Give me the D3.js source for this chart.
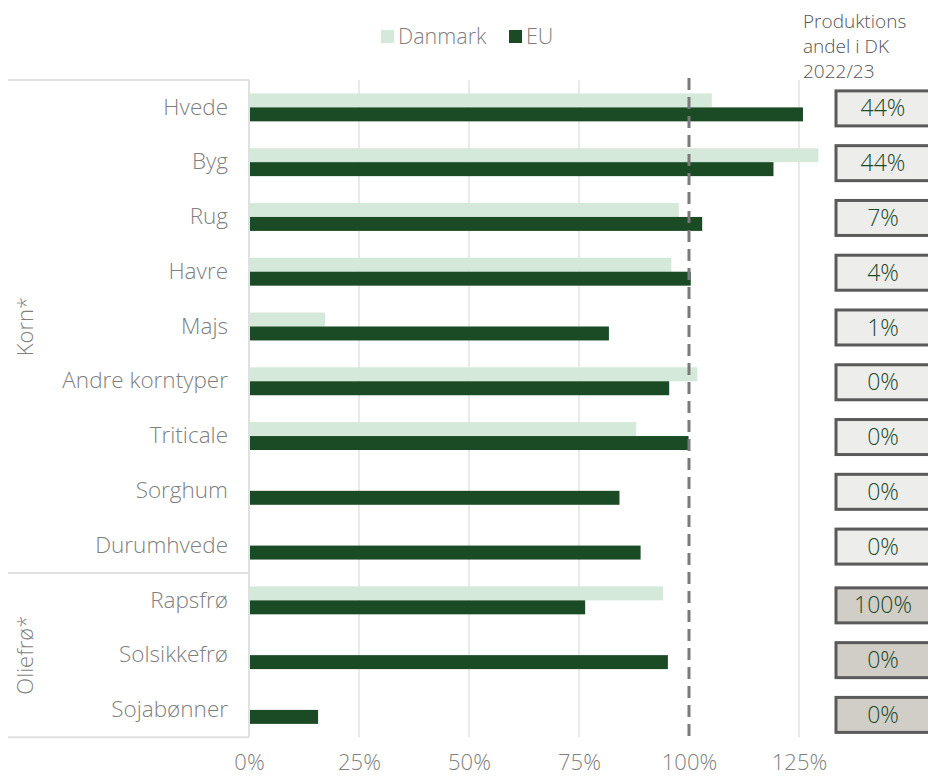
<!DOCTYPE html>
<html><head><meta charset="utf-8">
<script src="https://cdn.jsdelivr.net/npm/d3@7"></script>
<style>
html,body{margin:0;padding:0;background:#fff;}
svg{display:block;font-family:"Open Sans",sans-serif;font-weight:300;}
</style></head>
<body><svg id="c" width="928" height="778"></svg>
<script>
const categories = ["Hvede","Byg","Rug","Havre","Majs","Andre korntyper","Triticale","Sorghum ","Durumhvede","Rapsfrø","Solsikkefrø","Sojabønner"];
const groups = ["Korn*","Korn*","Korn*","Korn*","Korn*","Korn*","Korn*","Korn*","Korn*","Oliefrø*","Oliefrø*","Oliefrø*"];
const danmark = [105.2,129.4,97.7,96.0,17.3,101.9,88.0,null,null,94.1,null,null];
const eu = [125.9,119.2,103.0,100.4,81.8,95.5,99.9,84.2,89.0,76.4,95.2,15.7];
const produktionsandel = ["44%","44%","7%","4%","1%","0%","0%","0%","0%","100%","0%","0%"];
const tickValues = [0,25,50,75,100,125];
const seriesNames = ["Danmark","EU"];
const headerLines = ["Produktions","andel i DK","2022/23"];

const svg = d3.select("#c");
const C_DK = "#d5e9da", C_EU = "#1b4b25", GRAY = "#7f7f7f";
const pTop = 80, pBottom = 737.3, pLeft = 249, pRight = 799;

const x = d3.scaleLinear().domain([0,125]).range([pLeft,pRight]);
const y = d3.scaleBand().domain(categories).range([pTop,pBottom]).paddingInner(0.49).paddingOuter(0.245);
const rowY = d3.scaleBand().domain(categories).range([pTop,pBottom]);
const sub = d3.scaleBand().domain(seriesNames).range([0,y.bandwidth()]);

// gridlines
svg.append("g").selectAll("line").data(tickValues.filter(d=>d>0 && d!==100)).join("line")
  .attr("x1",d=>x(d)).attr("x2",d=>x(d)).attr("y1",pTop).attr("y2",pBottom)
  .attr("stroke","#e3e3e3").attr("stroke-width",1.5);

// bars
const data = categories.map((c,i)=>({c, dk:danmark[i], eu:eu[i]}));
svg.append("g").selectAll("rect").data(data.filter(d=>d.dk!=null)).join("rect")
  .attr("x",x(0)).attr("y",d=>y(d.c)+sub("Danmark"))
  .attr("width",d=>x(d.dk)-x(0)).attr("height",sub.bandwidth()).attr("fill",C_DK);
svg.append("g").selectAll("rect").data(data).join("rect")
  .attr("x",x(0)).attr("y",d=>y(d.c)+sub("EU"))
  .attr("width",d=>x(d.eu)-x(0)).attr("height",sub.bandwidth()).attr("fill",C_EU);

// 100% dashed line
svg.append("line").attr("x1",x(100)).attr("x2",x(100)).attr("y1",78).attr("y2",pBottom+2)
  .attr("stroke","#7a7a7a").attr("stroke-width",3).attr("stroke-dasharray","12,7");

// x axis labels
const xa = svg.append("g").attr("transform",`translate(0,${pBottom})`)
  .call(d3.axisBottom(x).tickValues(tickValues).tickFormat(d=>d+"%").tickSize(0).tickPadding(17));
xa.select(".domain").remove();
xa.selectAll("text").attr("fill",GRAY).style("font-size","22px").style("font-family","Open Sans").style("font-weight",300);

// y axis line & category labels
svg.append("line").attr("x1",pLeft).attr("x2",pLeft).attr("y1",pTop).attr("y2",pBottom).attr("stroke","#e0e0e0").attr("stroke-width",2);
const ya = svg.append("g").attr("transform",`translate(${pLeft},0)`)
  .call(d3.axisLeft(rowY).tickSize(0).tickPadding(21));
ya.select(".domain").remove();
ya.selectAll("text").attr("fill",GRAY).style("font-size","22.5px").style("font-family","Open Sans").style("font-weight",300);

// group separators
const groupNames = Array.from(new Set(groups));
const gExtent = groupNames.map(g=>{
  const idx = categories.filter((c,i)=>groups[i]===g);
  return {g, y0: rowY(idx[0]), y1: rowY(idx[idx.length-1])+rowY.bandwidth()};
});
const bounds = [pTop, ...gExtent.map(d=>d.y1)];
svg.append("g").selectAll("line").data(bounds).join("line")
  .attr("x1",8).attr("x2",pLeft).attr("y1",d=>d).attr("y2",d=>d)
  .attr("stroke","#e0e0e0").attr("stroke-width",2);
svg.append("g").selectAll("text").data(gExtent).join("text")
  .attr("transform",d=>`translate(33,${(d.y0+d.y1)/2}) rotate(-90)`)
  .attr("text-anchor","middle").attr("fill",GRAY).style("font-size","22px").text(d=>d.g);

// legend
const leg = svg.append("g");
const legX = [381,509];
seriesNames.forEach((s,i)=>{
  leg.append("rect").attr("x",legX[i]).attr("y",30).attr("width",13).attr("height",13).attr("fill",i?C_EU:C_DK);
  leg.append("text").attr("x",legX[i]+17).attr("y",44).attr("fill",GRAY).style("font-size","21.5px").text(s);
});

// header
svg.append("g").selectAll("text").data(headerLines).join("text")
  .attr("x",803).attr("y",(d,i)=>28+i*25).attr("fill","#555").style("font-size","19px").text(d=>d);

// production share boxes
const boxes = svg.append("g").selectAll("g").data(categories).join("g")
  .attr("transform",(d,i)=>`translate(836,${rowY(d)+rowY.bandwidth()/2 + (groups[i]==="Oliefrø*"?5:1)})`);
boxes.append("rect").attr("x",0).attr("y",-17.5).attr("width",94).attr("height",35)
  .attr("fill",(d,i)=>groups[i]==="Oliefrø*"?"#d1cec7":"#ededeb")
  .attr("stroke","#5a5a5a").attr("stroke-width",3);
boxes.append("text").attr("x",47).attr("y",0).attr("dy","0.35em").attr("text-anchor","middle")
  .attr("fill","#1a4a28").style("font-size","23px").text((d,i)=>produktionsandel[i]);
</script></body></html>
